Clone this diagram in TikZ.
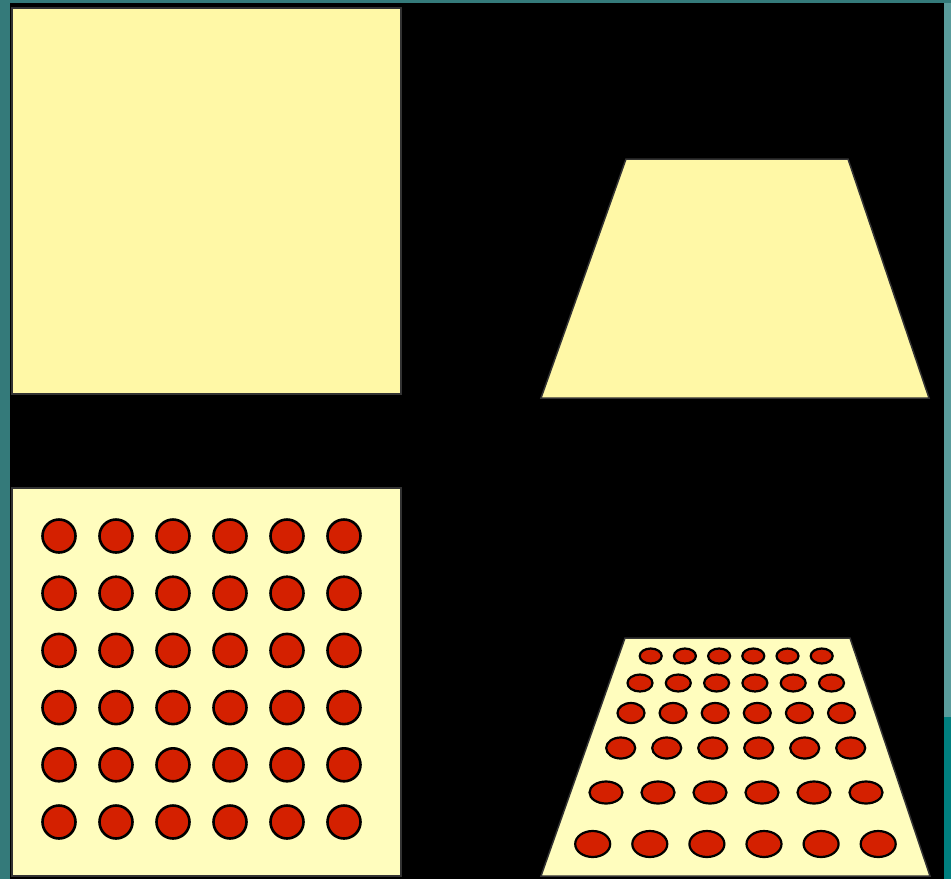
\documentclass[tikz,border=0pt]{standalone}
\definecolor{tealL}{HTML}{347A7A}
\definecolor{tealR}{HTML}{5A9C9C}
\definecolor{tealD}{HTML}{007F7F}
\definecolor{paleA}{HTML}{FFF8A6}
\definecolor{paleB}{HTML}{FFFDBE}
\definecolor{dotred}{HTML}{D42000}
\tikzset{
  panel/.style={draw=black!80, line width=1.5pt, line join=miter},
  dot/.style={fill=dotred, draw=black, line width=2.6pt}
}
\begin{document}
\begin{tikzpicture}[x=1pt,y=-1pt]
\useasboundingbox (0,0) rectangle (951,879);
% frame
\fill[tealL] (0,0) rectangle (951,879);
\fill[black] (10,3) rectangle (944,879);
\fill[tealR] (944,3) rectangle (951,717);
\fill[tealD] (944,717) rectangle (951,879);
% top-left square
\fill[paleA, panel] (12,8) rectangle (401,394);
% top-right trapezoid
\fill[paleA, panel] (626,159) -- (848,159) -- (929,398) -- (541,398) -- cycle;
% bottom-left square with dots
\fill[paleB, panel] (12,488) rectangle (401,876);
\foreach \i in {0,...,5}{
  \foreach \j in {0,...,5}{
    \path[dot] ({59+57*\i},{536+57.2*\j}) circle (16.5);
  }
}
% bottom-right trapezoid with dots
\fill[paleB, panel] (625,638) -- (850,638) -- (930,876) -- (541,876) -- cycle;
\foreach \y/\x/\s/\rx/\ry in {656/650.7/34.2/11/7.5, 683/640/38.3/12.5/8.5, 713/631/42.1/13.5/10, 748/620.7/46/14.5/10.5, 792.5/606/52/16.5/11, 844/592.7/57.1/17.5/13}{
  \foreach \k in {0,...,5}{
    \path[dot, line width=2.2pt] ({\x+\s*\k},\y) ellipse ({\rx} and {\ry});
  }
}
\end{tikzpicture}
\end{document}
